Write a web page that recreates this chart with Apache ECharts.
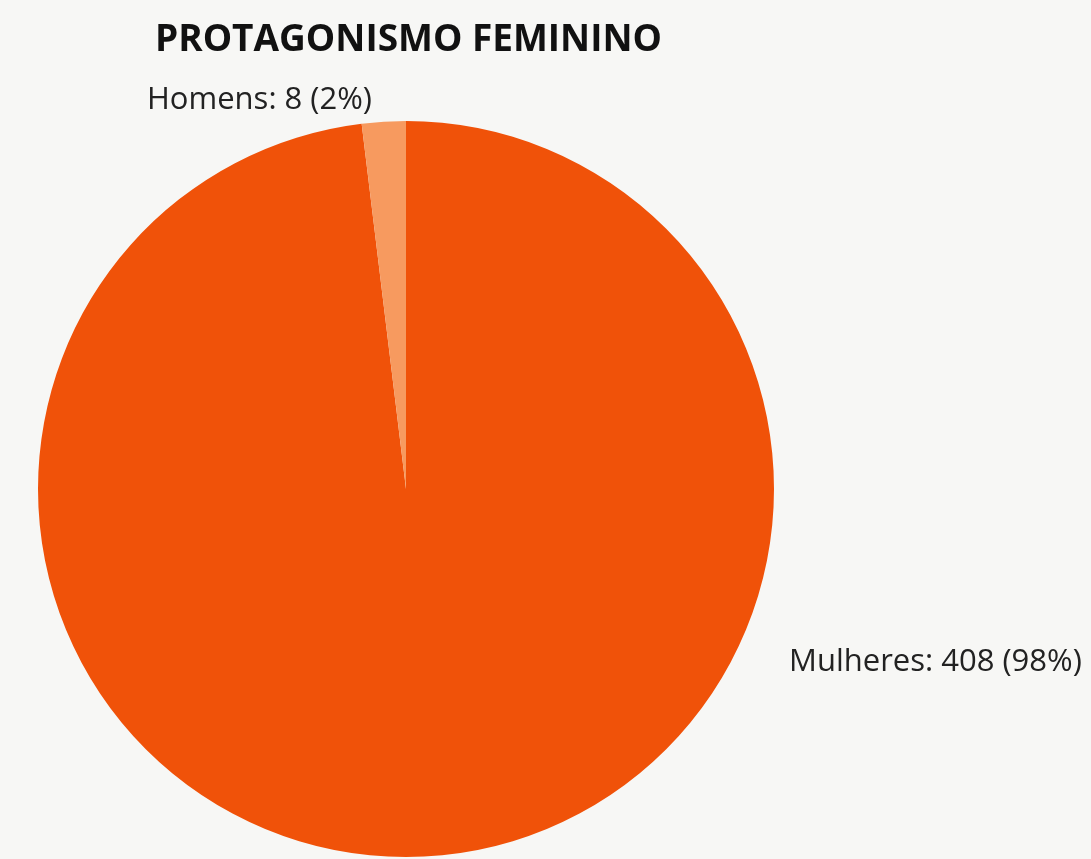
<!DOCTYPE html>
<html>
<head>
<meta charset="utf-8">
<script src="https://cdn.jsdelivr.net/npm/echarts@6/dist/echarts.min.js"></script>
<style>
  html, body { margin: 0; padding: 0; background: #f7f7f5; }
  #main { width: 1091px; height: 859px; }
</style>
</head>
<body>
<div id="main"></div>
<script>
var categories = ['Mulheres', 'Homens'];
var values = [408, 8];
var colors = ['#f05209', '#f79a5f'];

var chart = echarts.init(document.getElementById('main'));
var option = {
  backgroundColor: '#f7f7f5',
  title: {
    text: 'PROTAGONISMO FEMININO',
    left: 150,
    top: 17,
    textStyle: {
      fontFamily: 'Open Sans',
      fontWeight: 'bold',
      fontSize: 37,
      color: '#111'
    }
  },
  series: [{
    type: 'pie',
    center: [406, 489],
    radius: 368,
    startAngle: 90,
    clockwise: true,
    animation: false,
    itemStyle: { borderWidth: 0 },
    label: {
      show: true,
      position: 'outside',
      formatter: function (p) {
        return p.name + ': ' + p.value + ' (' + Math.round(p.percent) + '%)';
      },
      fontFamily: 'Open Sans',
      fontSize: 31,
      color: '#222'
    },
    labelLine: { show: false },
    labelLayout: function (params) {
      if (params.dataIndex === 1) {
        return { x: 147, y: 100, align: 'left', verticalAlign: 'middle' };
      }
      return { x: 789, y: 662, align: 'left', verticalAlign: 'middle' };
    },
    data: categories.map(function (c, i) {
      return { name: c, value: values[i], itemStyle: { color: colors[i] } };
    })
  }]
};
chart.setOption(option);
</script>
</body>
</html>
